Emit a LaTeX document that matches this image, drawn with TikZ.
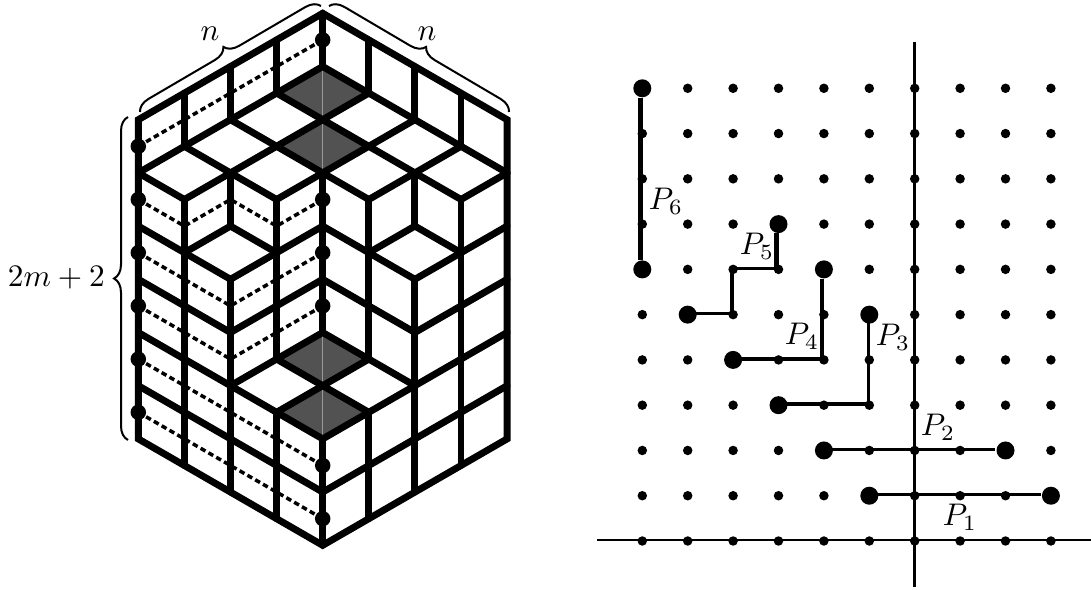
\documentclass[tikz,border=0pt]{standalone}
\usetikzlibrary{decorations.pathreplacing}
\begin{document}
\begin{tikzpicture}[x=0.02cm, y=-0.02cm,
          cell/.style={line width=0.138cm, line cap=round},
          trace/.style={line width=0.07cm, dash pattern=on 0.11cm off 0.07cm},
          walldot/.style={circle, fill=black, inner sep=0pt, minimum size=0.31cm},
          shaded/.style={fill=black!68},
          curly/.style={decorate, decoration={brace, amplitude=0.28cm}, line width=0.04cm},
          gdot/.style={circle, fill=black, inner sep=0pt, minimum size=0.19cm},
          bigdot/.style={circle, fill=black, inner sep=0pt, minimum size=0.36cm},
          axis/.style={line width=0.06cm},
          pline/.style={line width=0.07cm, transform canvas={shift={(-0.02cm,0.02cm)}}},
          pthick/.style={line width=0.095cm, transform canvas={shift={(-0.04cm,0cm)}}},
          plab/.style={inner sep=0pt, scale=1.78}]
        \useasboundingbox (0,0) rectangle (1091,590);
        % lattice of the hexagon
        \foreach \c in {0,...,8}
          \foreach \j in {0,...,20}
            \coordinate (v-\c-\j) at ({138.3+46.1*\c},{13.3+26.6*\j});
        % shaded tiles
        \foreach \j in {2,4,12,14} {
          \pgfmathtruncatemacro{\ja}{\j+1}
          \pgfmathtruncatemacro{\jb}{\j+2}
          \fill[shaded] (v-4-\j) -- (v-3-\ja) -- (v-4-\jb) -- (v-5-\ja) -- cycle;
          \draw[black!40, line width=0.02cm] (v-4-\j) -- (v-4-\jb);
        }
        % dotted traces
        \draw[trace] (v-0-5) -- (v-4-1);
        \draw[trace] (v-0-7) -- (v-1-8) -- (v-2-7) -- (v-3-8) -- (v-4-7);
        \draw[trace] (v-0-9) -- (v-2-11) -- (v-4-9);
        \draw[trace] (v-0-11) -- (v-2-13) -- (v-4-11);
        \draw[trace] (v-0-13) -- (v-4-17);
        \draw[trace] (v-0-15) -- (v-4-19);
        % verticals
        \foreach \c/\a/\b in {1/3/5, 1/7/17, 2/2/4, 2/6/8, 2/10/18, 3/1/3, 3/7/13, 3/15/19,
            4/0/2, 4/6/12, 4/16/20, 5/1/3, 5/7/13, 5/15/19, 6/2/4, 6/6/8, 6/10/18, 7/3/5, 7/7/17}
          \draw[cell] (v-\c-\a) -- (v-\c-\b);
        % tile edges
        \draw[cell] (v-0-6) -- (v-4-2) -- (v-8-6);
        \draw[cell] (v-3-3) -- (v-7-7);
        \draw[cell] (v-2-4) -- (v-5-7);
        \draw[cell] (v-1-5) -- (v-3-7);
        \draw[cell] (v-0-6) -- (v-1-7);
        \draw[cell] (v-5-3) -- (v-1-7);
        \draw[cell] (v-6-4) -- (v-3-7);
        \draw[cell] (v-7-5) -- (v-5-7);
        \draw[cell] (v-8-6) -- (v-7-7);
        \draw[cell] (v-0-8) -- (v-1-9) -- (v-2-8) -- (v-3-9) -- (v-4-8) -- (v-5-9) -- (v-6-8) -- (v-7-9) -- (v-8-8);
        \draw[cell] (v-1-9) -- (v-2-10) -- (v-3-9);
        \draw[cell] (v-5-9) -- (v-6-10) -- (v-7-9);
        \draw[cell] (v-0-10) -- (v-2-12) -- (v-4-10) -- (v-6-12) -- (v-8-10);
        \draw[cell] (v-0-12) -- (v-4-16) -- (v-8-12);
        \draw[cell] (v-2-14) -- (v-4-12) -- (v-6-14);
        \draw[cell] (v-3-13) -- (v-5-15);
        \draw[cell] (v-5-13) -- (v-3-15);
        \draw[cell] (v-0-14) -- (v-4-18) -- (v-8-14);
        \draw[cell, line cap=butt] (v-0-4) -- (v-4-0) -- (v-8-4) -- (v-8-16) -- (v-4-20) -- (v-0-16) -- cycle;
        % dots on the two walls
        \foreach \j in {5,7,9,11,13,15}
          \node[walldot] (ml-\j) at (v-0-\j) {};
        \foreach \j in {1,7,9,11,17,19}
          \node[walldot] (mr-\j) at (v-4-\j) {};
        % braces
        \coordinate (bl) at (140,112);
        \coordinate (bt) at (321,6);
        \coordinate (bu) at (329,6);
        \coordinate (br) at (509,112);
        \coordinate (ba) at (128,440);
        \coordinate (bb) at (128,117);
        \draw[curly] (bl) -- (bt);
        \draw[curly] (bu) -- (br);
        \draw[curly] (ba) -- (bb);
        \node[plab] (nl) at (210,34) {$n$};
        \node[plab] (nr) at (427,34) {$n$};
        \node[plab, anchor=east] (hgt) at (105.5,278) {$2m+2$};
        % right picture
        \coordinate (axt) at (914.5,42);
        \coordinate (axb) at (914.5,587);
        \coordinate (axl) at (597,540);
        \coordinate (axr) at (1091,540);
        \draw[axis] (axt) -- (axb);
        \draw[axis] (axl) -- (axr);
        \foreach \i in {0,...,9}
          \foreach \r in {0,...,10}
            \node[gdot] (g-\i-\r) at ({642.3+45.4*\i},{88.3+45.27*\r}) {};
        \foreach \n/\i/\r in {a1/5/9, b1/9/9, a2/4/8, b2/8/8, a3/5/5, b3/3/7, a4/4/4, b4/2/6, a5/3/3, b5/1/5, a6/0/0, b6/0/4}
          \node[bigdot] (\n) at (g-\i-\r) {};
        \draw[pline] (a1) -- (b1);
        \draw[pline] (a2) -- (b2);
        \draw[pline] (a3) -- (g-5-7.center) -- (b3);
        \draw[pline] (g-4-6.center) -- (b4);
        \draw[pthick] (a4) -- (g-4-6.center);
        \draw[pthick] (a5) -- (g-3-4.center);
        \draw[pline] (g-3-4.center) -- (g-2-4.center) -- (g-2-5.center) -- (b5);
        \draw[pthick] (a6) -- (b6);
        \node[plab] (l1) at (960,517) {$P_1$};
        \node[plab] (l2) at (938,427) {$P_2$};
        \node[plab] (l3) at (893,337) {$P_3$};
        \node[plab] (l4) at (802,336) {$P_4$};
        \node[plab] (l5) at (757,246) {$P_5$};
        \node[plab] (l6) at (666,201) {$P_6$};
      \end{tikzpicture}
\end{document}
